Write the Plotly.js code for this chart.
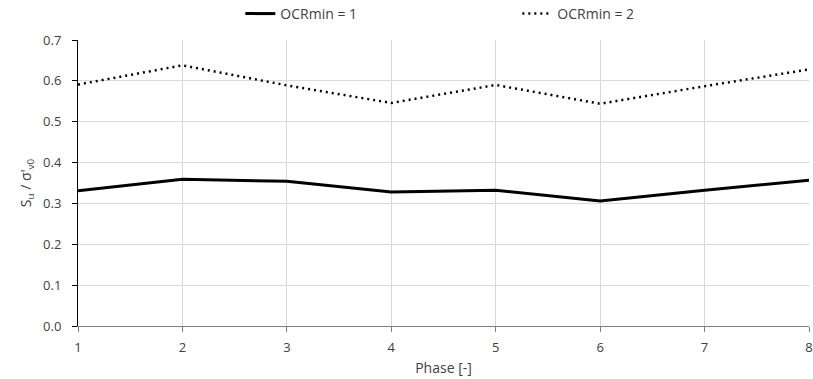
<!DOCTYPE html>
<html><head><meta charset="utf-8">
<script src="https://cdn.plot.ly/plotly-3.0.1.min.js"></script>
<style>html,body{margin:0;padding:0;background:#fff}#chart{width:813px;height:379px}</style>
</head><body><div id="chart"></div>
<script>
const phases = [1, 2, 3, 4, 5, 6, 7, 8];
const ocr1 = [0.331, 0.359, 0.354, 0.328, 0.332, 0.306, 0.332, 0.357];
const ocr2 = [0.591, 0.638, 0.589, 0.546, 0.590, 0.544, 0.587, 0.628];
const seriesNames = ['OCRmin = 1', 'OCRmin = 2'];
const yTicks = [0, 0.1, 0.2, 0.3, 0.4, 0.5, 0.6, 0.7];
const yTickLabels = ['0.0', '0.1', '0.2', '0.3', '0.4', '0.5', '0.6', '0.7'];

const FONT = '"Open Sans", "Liberation Sans", sans-serif';
const TXT = '#404040';

const traces = [
  {x: phases, y: ocr1, name: seriesNames[0], type: 'scatter', mode: 'lines',
   line: {color: '#000000', width: 3}},
  {x: phases, y: ocr2, name: seriesNames[1], type: 'scatter', mode: 'lines',
   line: {color: '#000000', width: 2.5, dash: '2px,4px'}}
];

const layout = {
  width: 813, height: 379,
  margin: {l: 78, r: 4, t: 40, b: 53, autoexpand: false},
  paper_bgcolor: '#ffffff', plot_bgcolor: '#ffffff',
  font: {family: FONT, size: 13, color: TXT},
  showlegend: true,
  legend: {orientation: 'h', x: 0.601, xanchor: 'center', y: 1.035, yanchor: 'bottom',
           entrywidth: 232, entrywidthmode: 'pixels', itemwidth: 30,
           font: {family: FONT, size: 14, color: TXT}},
  xaxis: {
    range: [1, 8], tickvals: phases, ticktext: phases.map(String),
    showgrid: true, gridcolor: '#d9d9d9', gridwidth: 1,
    showline: true, linecolor: '#7f7f7f', linewidth: 1,
    ticks: 'outside', ticklen: 5, tickcolor: '#7f7f7f',
    ticklabelstandoff: 4,
    zeroline: false,
    title: {text: 'Phase [-]', font: {family: FONT, size: 14, color: TXT}, standoff: 8}
  },
  yaxis: {
    range: [0, 0.7], tickvals: yTicks, ticktext: yTickLabels,
    showgrid: true, gridcolor: '#d9d9d9', gridwidth: 1,
    showline: true, linecolor: '#000000', linewidth: 1,
    ticks: 'outside', ticklen: 5, tickcolor: '#000000',
    ticklabelstandoff: 8,
    zeroline: false,
    title: {text: 'S<sub>u</sub> / σ\'<sub>v0</sub>', font: {family: FONT, size: 14, color: TXT}, standoff: 8}
  }
};

Plotly.newPlot('chart', traces, layout, {displayModeBar: false, staticPlot: true});
</script></body></html>
